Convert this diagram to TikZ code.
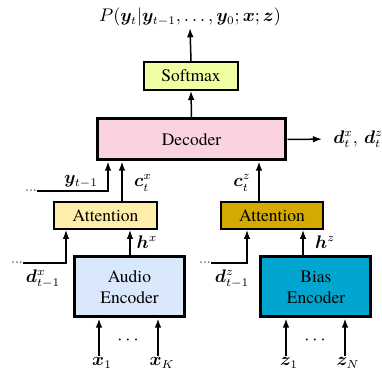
\documentclass[tikz,border=0pt]{standalone}
\usepackage{fontspec}
\setmainfont{TeX Gyre Termes}
\usepackage{bm}
\usetikzlibrary{arrows.meta}
\definecolor{softc}{HTML}{EEFFA4}
\definecolor{decc}{HTML}{FAD3DF}
\definecolor{attxc}{HTML}{FFEDAA}
\definecolor{attzc}{HTML}{D4AA00}
\definecolor{audc}{HTML}{DAE8FC}
\definecolor{biasc}{HTML}{00A6CF}
\begin{document}
\begin{tikzpicture}[x=0.6pt,y=-0.6pt,
  every node/.style={font=\rmfamily\fontsize{10.5}{12.6}\selectfont},
  thinbox/.style={draw, line width=1pt, inner sep=0pt, align=center},
  thickbox/.style={draw, line width=1.8pt, inner sep=0pt, align=center},
  lbl/.style={inner sep=1pt},
  dotsnode/.style={inner sep=0pt},
  arr/.style={line width=0.9pt, -{Latex[length=5.5pt,width=4pt]}}]
\useasboundingbox (0,0) rectangle (382,371);
% boxes
\node[thinbox, fill=softc, minimum width=56.4pt, minimum height=16.8pt] (soft) at (191,76) {Softmax};
\node[thickbox, fill=decc, minimum width=113.4pt, minimum height=24.6pt] (dec) at (191.5,139.5) {Decoder};
\node[thinbox, fill=attxc, minimum width=61.8pt, minimum height=16.2pt] (attx) at (105.5,215.5) {Attention};
\node[thinbox, fill=attzc, minimum width=61.2pt, minimum height=16.2pt] (attz) at (272,215.5) {Attention};
\node[thickbox, fill=audc, minimum width=66.6pt, minimum height=36pt] (aud) at (129.5,287) {Audio\\Encoder};
\node[thickbox, fill=biasc, minimum width=66pt, minimum height=36pt] (bias) at (316,287) {Bias\\Encoder};
% labels
\node[lbl] (P) at (190,17) {$P(\bm{y}_t|\bm{y}_{t-1},\ldots,\bm{y}_0;\bm{x};\bm{z})$};
\node[lbl, anchor=west, inner sep=0pt] (dout) at (333,139) {$\bm{d}^x_t,\,\bm{d}^z_t$};
\node[dotsnode] (ydots) at (31,191) {$\scriptstyle\cdots$};
\node[lbl] (ylab) at (81,182) {$\bm{y}_{t-1}$};
\node[lbl] (cxlab) at (143,183) {$\bm{c}^x_t$};
\node[lbl] (czlab) at (242,183) {$\bm{c}^z_t$};
\node[dotsnode] (dxdots) at (17,263) {$\scriptstyle\cdots$};
\node[lbl] (dxlab) at (43,279) {$\bm{d}^x_{t-1}$};
\node[dotsnode] (dzdots) at (205,263) {$\scriptstyle\cdots$};
\node[lbl] (dzlab) at (232,279) {$\bm{d}^z_{t-1}$};
\node[lbl] (hxlab) at (147,242) {$\bm{h}^x$};
\node[lbl] (hzlab) at (325,242) {$\bm{h}^z$};
\node[lbl] (x1) at (102,363) {$\bm{x}_1$};
\node[lbl] (xK) at (162,363) {$\bm{x}_K$};
\node[dotsnode] (xdots) at (128,340) {$\cdots$};
\node[lbl] (z1) at (289,363) {$\bm{z}_1$};
\node[lbl] (zN) at (348,363) {$\bm{z}_N$};
\node[dotsnode] (zdots) at (315,340) {$\cdots$};
% x positions
\coordinate (yx) at (108,0);
\coordinate (cx) at (122,0);
\coordinate (cz) at (259,0);
\coordinate (dx) at (66,0);
\coordinate (dz) at (247,0);
\coordinate (hx) at (130,0);
\coordinate (hz) at (303,0);
\coordinate (xa) at (99,0);
\coordinate (xb) at (158,0);
\coordinate (za) at (286,0);
\coordinate (zb) at (345,0);
% connectors
\draw[arr] (soft.north) -- (P.south);
\draw[arr] (dec.north) -- (soft.south);
\draw[arr, shorten >=6.6pt] (dec.east) -- (dout.west);
\draw[arr] (ydots.east) -| (dec.south -| yx);
\draw[arr] (attx.north -| cx) -- (dec.south -| cx);
\draw[arr] (attz.north -| cz) -- (dec.south -| cz);
\draw[arr] (dxdots.east) -| (attx.south -| dx);
\draw[arr] (dzdots.east) -| (attz.south -| dz);
\draw[arr] (aud.north -| hx) -- (attx.south -| hx);
\draw[arr] (bias.north -| hz) -- (attz.south -| hz);
\draw[arr] (x1.north -| xa) -- (aud.south -| xa);
\draw[arr] (xK.north -| xb) -- (aud.south -| xb);
\draw[arr] (z1.north -| za) -- (bias.south -| za);
\draw[arr] (zN.north -| zb) -- (bias.south -| zb);
\end{tikzpicture}
\end{document}
